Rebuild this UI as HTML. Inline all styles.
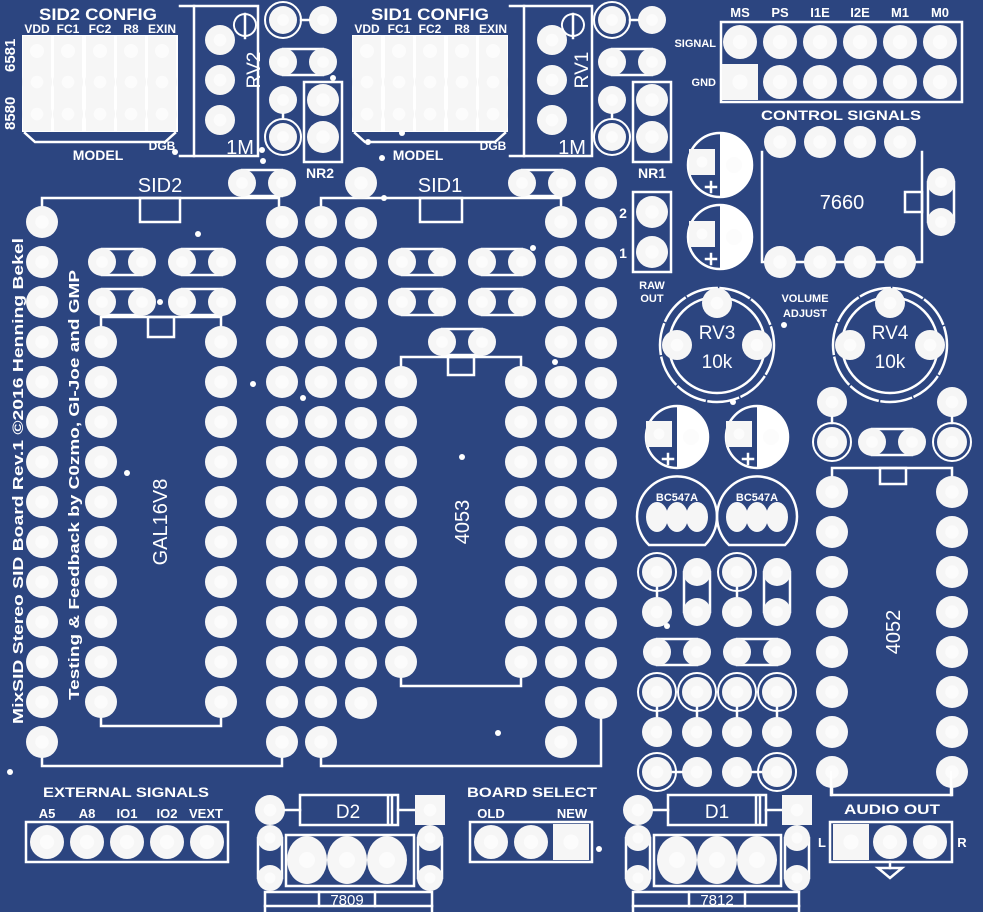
<!DOCTYPE html>
<html><head><meta charset="utf-8"><style>
html,body{margin:0;padding:0;background:#2c4580}
svg{display:block}
text{font-family:"Liberation Sans",sans-serif;fill:#fff}
.b{font-weight:bold}
</style></head><body>
<svg id="s" width="983" height="912" viewBox="0 0 983 912" xmlns="http://www.w3.org/2000/svg">
<rect width="983" height="912" fill="#2c4580"/>
<g id="g" stroke-linecap="square"></g>
<g id="t">
<text class="b" x="98" y="20" font-size="17" text-anchor="middle" textLength="118" lengthAdjust="spacingAndGlyphs">SID2 CONFIG</text>
<text class="b" x="37" y="33" font-size="12" text-anchor="middle">VDD</text>
<text class="b" x="68" y="33" font-size="12" text-anchor="middle">FC1</text>
<text class="b" x="100" y="33" font-size="12" text-anchor="middle">FC2</text>
<text class="b" x="131" y="33" font-size="12" text-anchor="middle">R8</text>
<text class="b" x="162" y="33" font-size="12" text-anchor="middle">EXIN</text>
<text class="b" x="98" y="160" font-size="14" text-anchor="middle">MODEL</text>
<text class="b" x="162" y="150" font-size="12" text-anchor="middle">DGB</text>
<text class="b" font-size="15" transform="translate(15,130) rotate(-90)">8580</text>
<text class="b" font-size="15" transform="translate(15,72) rotate(-90)">6581</text>
<text x="254" y="70" font-size="19" text-anchor="middle" transform="rotate(-90 254 70)" dy="6">RV2</text>
<text x="240" y="154" font-size="20" text-anchor="middle">1M</text>
<text class="b" x="320" y="178" font-size="14" text-anchor="middle">NR2</text>
<text x="160" y="192" font-size="20" text-anchor="middle">SID2</text>
<text class="b" x="430" y="20" font-size="17" text-anchor="middle" textLength="118" lengthAdjust="spacingAndGlyphs">SID1 CONFIG</text>
<text class="b" x="367" y="33" font-size="12" text-anchor="middle">VDD</text>
<text class="b" x="399" y="33" font-size="12" text-anchor="middle">FC1</text>
<text class="b" x="430" y="33" font-size="12" text-anchor="middle">FC2</text>
<text class="b" x="462" y="33" font-size="12" text-anchor="middle">R8</text>
<text class="b" x="493" y="33" font-size="12" text-anchor="middle">EXIN</text>
<text class="b" x="418" y="160" font-size="14" text-anchor="middle">MODEL</text>
<text class="b" x="493" y="150" font-size="12" text-anchor="middle">DGB</text>
<text x="582" y="70" font-size="19" text-anchor="middle" transform="rotate(-90 582 70)" dy="6">RV1</text>
<text x="572" y="154" font-size="20" text-anchor="middle">1M</text>
<text class="b" x="652" y="178" font-size="14" text-anchor="middle">NR1</text>
<text x="440" y="192" font-size="20" text-anchor="middle">SID1</text>
<text class="b" x="623" y="218" font-size="14" text-anchor="middle">2</text>
<text class="b" x="623" y="258" font-size="14" text-anchor="middle">1</text>
<text class="b" x="652" y="289" font-size="11" text-anchor="middle">RAW</text>
<text class="b" x="652" y="302" font-size="11" text-anchor="middle">OUT</text>
<text class="b" x="740" y="17" font-size="13" text-anchor="middle">MS</text>
<text class="b" x="780" y="17" font-size="13" text-anchor="middle">PS</text>
<text class="b" x="820" y="17" font-size="13" text-anchor="middle">I1E</text>
<text class="b" x="860" y="17" font-size="13" text-anchor="middle">I2E</text>
<text class="b" x="900" y="17" font-size="13" text-anchor="middle">M1</text>
<text class="b" x="940" y="17" font-size="13" text-anchor="middle">M0</text>
<text class="b" x="716" y="47" font-size="11" text-anchor="end">SIGNAL</text>
<text class="b" x="716" y="86" font-size="11" text-anchor="end">GND</text>
<text class="b" x="841" y="120" font-size="14" text-anchor="middle" textLength="160" lengthAdjust="spacingAndGlyphs">CONTROL SIGNALS</text>
<text x="842" y="209" font-size="20" text-anchor="middle">7660</text>
<text class="b" x="805" y="302" font-size="11" text-anchor="middle">VOLUME</text>
<text class="b" x="805" y="317" font-size="11" text-anchor="middle">ADJUST</text>
<text x="717" y="339" font-size="19" text-anchor="middle">RV3</text>
<text x="717" y="368" font-size="19" text-anchor="middle">10k</text>
<text x="890" y="339" font-size="19" text-anchor="middle">RV4</text>
<text x="890" y="368" font-size="19" text-anchor="middle">10k</text>
<text class="b" x="677" y="501" font-size="11" text-anchor="middle">BC547A</text>
<text class="b" x="757" y="501" font-size="11" text-anchor="middle">BC547A</text>
<text x="160" y="522" font-size="20" text-anchor="middle" transform="rotate(-90 160 522)" dy="7">GAL16V8</text>
<text x="462" y="522" font-size="20" text-anchor="middle" transform="rotate(-90 462 522)" dy="7">4053</text>
<text x="893" y="632" font-size="20" text-anchor="middle" transform="rotate(-90 893 632)" dy="7">4052</text>
<text class="b" font-size="15" transform="translate(23,724) rotate(-90)" textLength="486" lengthAdjust="spacingAndGlyphs">MixSID Stereo SID Board Rev.1 ©2016 Henning Bekel</text>
<text class="b" font-size="15" transform="translate(79,700) rotate(-90)" textLength="430" lengthAdjust="spacingAndGlyphs">Testing &amp; Feedback by C0zmo, GI-Joe and GMP</text>
<text class="b" x="126" y="797" font-size="14" text-anchor="middle" textLength="166" lengthAdjust="spacingAndGlyphs">EXTERNAL SIGNALS</text>
<text class="b" x="47" y="818" font-size="13" text-anchor="middle">A5</text>
<text class="b" x="87" y="818" font-size="13" text-anchor="middle">A8</text>
<text class="b" x="127" y="818" font-size="13" text-anchor="middle">IO1</text>
<text class="b" x="167" y="818" font-size="13" text-anchor="middle">IO2</text>
<text class="b" x="206" y="818" font-size="13" text-anchor="middle">VEXT</text>
<text x="348" y="818" font-size="19" text-anchor="middle">D2</text>
<text x="347" y="905" font-size="15" text-anchor="middle">7809</text>
<text class="b" x="532" y="797" font-size="14" text-anchor="middle" textLength="130" lengthAdjust="spacingAndGlyphs">BOARD SELECT</text>
<text class="b" x="491" y="818" font-size="13" text-anchor="middle">OLD</text>
<text class="b" x="572" y="818" font-size="13" text-anchor="middle">NEW</text>
<text x="717" y="818" font-size="19" text-anchor="middle">D1</text>
<text x="717" y="905" font-size="15" text-anchor="middle">7812</text>
<text class="b" x="892" y="814" font-size="14" text-anchor="middle" textLength="96" lengthAdjust="spacingAndGlyphs">AUDIO OUT</text>
<text class="b" x="822" y="847" font-size="13" text-anchor="middle">L</text>
<text class="b" x="962" y="847" font-size="13" text-anchor="middle">R</text>
</g>
</svg>
<script>
var g=document.getElementById('g'),NS='http://www.w3.org/2000/svg',W='#fff',P='#f6f6f6';
function el(n,a){var e=document.createElementNS(NS,n);for(var k in a)e.setAttribute(k,a[k]);g.appendChild(e);return e;}
function pad(x,y,r){el('circle',{cx:x,cy:y,r:r||16,fill:P});el('circle',{cx:x,cy:y,r:(r||16)*0.42,fill:'#fcfcfc'});}
function ring(x,y,r){el('circle',{cx:x,cy:y,r:(r||16)+4,fill:'none',stroke:W,'stroke-width':2});pad(x,y,r);}
function sq(x,y,h){el('rect',{x:x-h,y:y-h,width:2*h,height:2*h,fill:P});el('circle',{cx:x,cy:y,r:h*0.42,fill:'#fcfcfc'});}
function ln(pts){el('polyline',{points:pts,fill:'none',stroke:W,'stroke-width':2.5});}
function rc(x,y,w,h){el('rect',{x:x,y:y,width:w,height:h,fill:'none',stroke:W,'stroke-width':2.5});}
function jh(x1,x2,y,r){r=r||14;rc(x1,y-r+1,x2-x1,2*r-2);pad(x1,y,r);pad(x2,y,r);}
function jv(x,y1,y2,r){r=r||14;rc(x-r+1,y1,2*r-2,y2-y1);pad(x,y1,r);pad(x,y2,r);}
function dot(x,y){el('circle',{cx:x,cy:y,r:3,fill:W});}

function cfg(xs,x0,x1){
 el('rect',{x:x0,y:35,width:x1-x0,height:97,fill:W});
 xs.forEach(function(x){ el('rect',{x:x-14,y:36,width:28,height:95,fill:P}); el('circle',{cx:x,cy:51,r:7,fill:'#fcfcfc'}); pad(x,82,15); pad(x,114,15);});
 ln((x0+3)+',133 '+(x0+13)+',142 '+(x1-13)+',142 '+(x1-3)+',133');
}
cfg([37,68,100,131,162],22,178);
cfg([367,399,430,462,493],352,508);
dot(175,152);dot(263,161);dot(368,142);dot(382,158);dot(402,133);

function rv(x0,x1,px,cx){ln((x0-14)+',6 '+x1+',6 '+x1+',156 '+(x0-14)+',156');ln(x0+',6 '+x0+',156');
 pad(px,40,15);pad(px,80,15);pad(px,120,15);
 el('path',{d:'M'+(cx)+' 14 A 11 11 0 1 1 '+(cx-0.1)+' 14',fill:'none',stroke:W,'stroke-width':2});ln(cx+',14 '+cx+',38');}
rv(194,258,220,245); rv(524,592,552,573);
function nr(xa,xb){ring(xa,20,14);pad(xb,20,14);ln((xa+18)+',20 '+(xb-14)+',20');jh(xa,xb,62);pad(xa,100,14);ring(xa,137,14);ln(xa+',114 '+xa+',117');
 rc(xb-19,82,38,80);pad(xb,100,16);pad(xb,137,16);}
nr(283,323);nr(612,652);dot(333,78);dot(262,150);
rc(633,192,38,80);pad(652,212,16);pad(652,252,16);

ln('42,210 42,198 279,198 279,210');rc(140,198,40,24);
ln('42,754 42,766 282,766 282,754');
for(var i=0;i<14;i++){pad(42,222+40*i);pad(282,222+40*i);}
jh(242,282,183);
ln('101,330 101,317 221,317 221,330');rc(148,317,26,20);
ln('101,714 101,726 221,726 221,714');
for(i=0;i<10;i++){pad(101,342+40*i);pad(221,342+40*i);}
jh(102,142,262);jh(182,222,262);jh(102,142,302);jh(182,222,302);
dot(198,234);dot(160,302);dot(253,384);dot(127,473);dot(303,398);dot(10,772);
ln('321,210 321,198 561,198 561,210');rc(420,198,42,24);
ln('321,754 321,766 601,766 601,714');
for(i=0;i<14;i++){pad(321,222+40*i);pad(561,222+40*i);pad(361,183+40*i);pad(601,183+40*i);}
jh(522,562,183);
jh(402,442,262);jh(482,522,262);jh(402,442,302);jh(482,522,302);jh(442,482,342);
ln('401,370 401,357 521,357 521,370');rc(448,357,26,18);
ln('401,674 401,686 521,686 521,674');
for(i=0;i<8;i++){pad(401,382+40*i);pad(521,382+40*i);}
dot(384,198);dot(533,248);dot(555,362);dot(498,733);dot(462,457);dot(599,849);dot(667,626);

rc(721,22,241,80);
[740,780,820,860,900,940].forEach(function(x,k){pad(x,42,17);if(k==0)sq(x,82,18);else pad(x,82,17);});
ln('762,152 762,262 922,262 922,152');rc(905,192,17,20);
[780,820,860,900].forEach(function(x){pad(x,142,16);pad(x,262,16);});
jv(941,182,222);
function cap(cx,cy,r){el('circle',{cx:cx,cy:cy,r:r,fill:'none',stroke:W,'stroke-width':2.5});
 el('path',{d:'M'+cx+' '+(cy-r)+' A '+r+' '+r+' 0 0 1 '+cx+' '+(cy+r)+' Z',fill:W});
 el('circle',{cx:cx+14,cy:cy,r:8,fill:'#fcfcfc'});sq(cx-18,cy-3,13);
 ln((cx-14)+','+(cy+22)+' '+(cx-4)+','+(cy+22));ln((cx-9)+','+(cy+17)+' '+(cx-9)+','+(cy+27));}
cap(720,165,32);cap(720,237,32);cap(677,437,31);cap(757,437,31);
function pot(cx,cy){el('circle',{cx:cx,cy:cy,r:48,fill:'none',stroke:W,'stroke-width':2.5});
 el('circle',{cx:cx,cy:cy,r:57,fill:'none',stroke:W,'stroke-width':2.5,'stroke-dasharray':'30 4'});
 pad(cx,cy-42,15);pad(cx-40,cy,15);pad(cx+40,cy,15);}
pot(717,345);pot(890,345);dot(784,325);dot(733,402);
function tr(cx){el('path',{d:'M'+(cx-28)+' 545 A 40 40 0 1 1 '+(cx+28)+' 545 Z',fill:'none',stroke:W,'stroke-width':2.5});
 [cx-20,cx,cx+20].forEach(function(x){el('ellipse',{cx:x,cy:517,rx:11,ry:15,fill:P});});}
tr(677);tr(757);
ring(657,572,15);pad(657,612,15);ln('657,588 657,596');jv(697,572,612);
ring(737,572,15);pad(737,612,15);ln('737,588 737,596');jv(777,572,612);
jh(657,697,652);jh(737,777,652);
[657,697,737,777].forEach(function(x){ring(x,692,15);pad(x,732,15);ln(x+',708 '+x+',716');});
ring(657,772,15);pad(697,772,15);ln('673,772 682,772');
pad(737,772,15);ring(777,772,15);ln('752,772 761,772');
pad(832,402,15);pad(952,402,15);ring(832,442,15);ring(952,442,15);ln('832,417 832,423');ln('952,417 952,423');
jh(872,912,442);
ln('832,478 832,468 952,468 952,478');rc(880,468,26,16);
ln('832,785 832,795 952,795 952,785');
for(i=0;i<8;i++){pad(832,492+40*i);pad(952,492+40*i);}

rc(26,822,202,40);[47,87,127,167,207].forEach(function(x){pad(x,842,17);});
function reg(xl,xr,cx){
 pad(xl,810,15);ln((xl+15)+',810 '+(xl+30)+',810');rc(xl+30,795,98,30);ln((xl+118)+',796 '+(xl+118)+',824');ln((xl+122)+',796 '+(xl+122)+',824');
 ln((xl+128)+',810 '+(xr-15)+',810');sq(xr,810,15);
 jv(xl,838,878,13);jv(xr,838,878,13);
 rc(xl+16,835,xr-xl-32,51);
 [cx-40,cx,cx+40].forEach(function(x){el('ellipse',{cx:x,cy:860,rx:20,ry:24,fill:P});el('circle',{cx:x,cy:860,r:8,fill:'#fcfcfc'});});
 ln(xl-5+',912 '+(xl-5)+',892 '+(xr+2)+',892 '+(xr+2)+',912');ln(xl-5+',906 '+(xr+2)+',906');
 ln((cx-28)+',892 '+(cx-28)+',906');ln((cx+28)+',892 '+(cx+28)+',906');}
reg(270,430,347);reg(638,797,717);
rc(470,822,122,40);pad(491,842,17);pad(531,842,17);sq(571,842,18);
rc(830,822,122,40);sq(851,842,18);pad(890,842,17);pad(930,842,17);
ln('890,862 890,868');el('path',{d:'M878 868 L902 868 L890 878 Z',fill:'none',stroke:W,'stroke-width':2.5});
ln('831,795 831,772');ln('951,795 951,772');
</script>
</body></html>
